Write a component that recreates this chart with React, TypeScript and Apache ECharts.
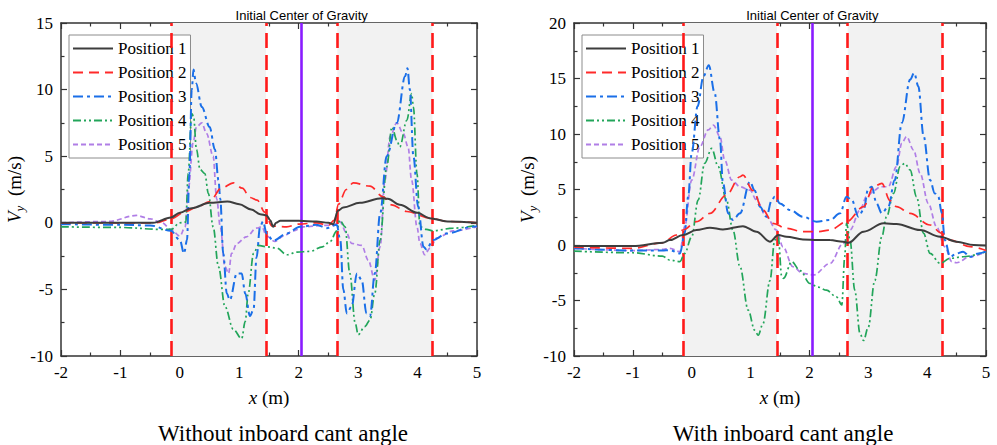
import React, { useEffect, useRef } from "react";
import * as echarts from "echarts";

type Pt = [number, number];

const seriesNames = ["Position 1", "Position 2", "Position 3", "Position 4", "Position 5"];
const seriesColors = ["#3d3d3d", "#ff2a2a", "#1a6fe8", "#22a55a", "#b07ee6"];
const seriesDash: any[] = ["solid", [10, 6], [10, 4, 3, 4], [8, 3, 2, 3, 2, 3], [5, 3]];
const seriesWidth = [2, 1.7, 2, 1.7, 1.7];

const zoneBounds: Pt[] = [[-0.15, 1.45], [2.65, 4.25]];
const zoneLines = [-0.15, 1.45, 2.65, 4.25];
const cgX = 2.05;
const cgTitle = "Initial Center of Gravity";
const captions = ["Without inboard cant angle", "With inboard cant angle"];
const xRange = [-2, 5, 1];
const yRangeLeft = [-10, 15, 5];
const yRangeRight = [-10, 20, 5];

// ---- Without inboard cant angle ----
const leftP1: Pt[] = [[-2,0],[-1,0],[-0.45,0],[-0.15,0.4],[0,0.75],[0.2,1.1],[0.5,1.5],[0.8,1.6],[1.0,1.4],[1.2,1.0],[1.35,0.65],[1.46,0.55],[1.52,0.2],[1.57,-0.3],[1.62,0],[1.69,0.15],[2.0,0.15],[2.3,0.1],[2.5,0],[2.58,-0.1],[2.66,0.9],[2.75,1.15],[3.03,1.5],[3.4,1.85],[3.5,1.8],[3.7,1.35],[4.0,0.75],[4.2,0.35],[4.5,0.1],[5,0]];
const leftP2: Pt[] = [[-2,0],[-1,0],[-0.4,0],[-0.15,0.3],[0.1,0.85],[0.3,1.2],[0.5,1.6],[0.7,2.6],[0.9,3.0],[1.05,2.6],[1.18,1.9],[1.3,1.7],[1.43,0.8],[1.55,-0.25],[1.8,-0.3],[2.0,-0.1],[2.3,0],[2.5,-0.2],[2.6,0.2],[2.67,1.4],[2.8,2.5],[2.92,3.0],[3.2,2.75],[3.42,1.95],[3.56,1.35],[3.82,0.85],[4.21,0.35],[4.5,0.1],[5,0]];
const leftP3: Pt[] = [[-2,-0.1],[-1,-0.15],[-0.5,-0.2],[-0.15,-0.6],[0,-1.3],[0.07,-2.3],[0.12,-1.3],[0.16,3.7],[0.2,10],[0.23,11.5],[0.27,10.5],[0.37,8.7],[0.5,7.2],[0.59,5.5],[0.65,3.2],[0.68,1.8],[0.73,-2.3],[0.79,-5.3],[0.84,-5.8],[0.96,-3.8],[1.04,-3.8],[1.1,-5.3],[1.18,-7.0],[1.24,-6.5],[1.29,-2.6],[1.35,-0.3],[1.4,0.1],[1.46,-0.8],[1.57,-1.35],[1.8,-0.8],[2.02,-0.3],[2.3,-0.15],[2.47,-0.4],[2.64,-0.15],[2.7,-1.3],[2.75,-5.0],[2.81,-6.8],[2.89,-6.3],[2.98,-3.8],[3.06,-4.3],[3.14,-6.8],[3.2,-7.0],[3.28,-3.8],[3.37,0.7],[3.48,5.0],[3.65,7.5],[3.79,11.0],[3.83,11.6],[3.87,10],[3.93,5.0],[4.01,1.2],[4.1,-1.8],[4.15,-2.0],[4.26,-1.3],[4.49,-0.8],[4.93,-0.3],[5,-0.25]];
const leftP4: Pt[] = [[-2,-0.3],[-1,-0.35],[-0.3,-0.5],[-0.15,-0.5],[0,0],[0.1,0.05],[0.14,3.7],[0.2,8.2],[0.23,8.0],[0.28,5.5],[0.34,4.0],[0.42,3.7],[0.48,2.2],[0.56,-0.3],[0.65,-3.3],[0.76,-6.3],[0.9,-8.0],[1.04,-8.7],[1.1,-7.4],[1.15,-5.3],[1.24,-2.3],[1.32,-1.7],[1.46,-1.8],[1.63,-1.9],[1.8,-2.4],[1.97,-2.2],[2.19,-2.15],[2.4,-1.8],[2.53,-1.4],[2.64,-0.6],[2.69,0.2],[2.78,-0.3],[2.86,-3.8],[2.95,-7.5],[3.0,-8.4],[3.11,-7.8],[3.2,-7.3],[3.28,-5.3],[3.37,-1.3],[3.48,4.2],[3.57,7.2],[3.65,6.2],[3.7,5.7],[3.82,7.7],[3.9,9.7],[3.93,8.7],[3.99,3.7],[4.04,-0.3],[4.15,-0.5],[4.26,-0.6],[4.6,-0.4],[5,-0.2]];
const leftP5: Pt[] = [[-2,0],[-1.2,0.1],[-0.73,0.55],[-0.5,0.3],[-0.3,0],[-0.15,-0.5],[0,-1.0],[0.09,-0.3],[0.14,2.5],[0.23,6.2],[0.28,7.2],[0.37,7.5],[0.45,6.7],[0.56,5.0],[0.62,1.8],[0.68,-0.3],[0.76,-3.3],[0.82,-3.8],[0.87,-2.3],[0.96,-1.55],[1.12,-1.05],[1.29,-0.4],[1.38,-0.3],[1.46,-1.0],[1.6,-1.4],[1.74,-1.0],[1.91,-0.6],[2.08,-0.3],[2.4,-0.2],[2.58,-0.2],[2.69,0.1],[2.81,-0.8],[2.89,-1.55],[3.06,-1.7],[3.17,-2.8],[3.28,-4.3],[3.37,-1.8],[3.45,3.2],[3.54,6.5],[3.65,7.5],[3.76,6.7],[3.84,5.7],[3.9,3.2],[3.99,-0.3],[4.04,-1.55],[4.12,-2.4],[4.21,-1.9],[4.32,-1.15],[4.6,-0.6],[5,-0.3]];

// ---- With inboard cant angle ----
const rightP1: Pt[] = [[-2,-0.1],[-1,-0.1],[-0.49,0.2],[-0.37,0.44],[-0.15,0.9],[0.08,1.35],[0.31,1.56],[0.53,1.4],[0.87,1.7],[1.1,1.2],[1.33,0.3],[1.47,0.9],[1.61,0.75],[1.89,0.5],[2.14,0.45],[2.35,0.44],[2.575,0.3],[2.66,0.2],[2.92,1.2],[3.26,1.95],[3.48,1.9],[3.88,1.35],[4.22,0.75],[4.5,0.3],[4.79,0],[5,-0.05]];
const rightP2: Pt[] = [[-2,-0.2],[-1,-0.3],[-0.5,0.2],[-0.26,0.9],[-0.15,1.35],[0.08,2.1],[0.31,2.85],[0.59,4.5],[0.82,6.15],[0.87,6.3],[1.04,4.9],[1.21,3.15],[1.38,1.95],[1.61,1.5],[1.89,1.2],[2.14,1.2],[2.35,1.35],[2.63,2.1],[2.92,3.45],[3.09,5.25],[3.23,5.56],[3.37,4.0],[3.48,3.45],[3.71,2.85],[4.05,1.8],[4.25,1.05],[4.39,0.44],[4.73,-0.15],[5,-0.5]];
const rightP3: Pt[] = [[-2,-0.3],[-1,-0.5],[-0.5,-0.5],[-0.37,-0.46],[-0.2,-0.76],[-0.12,1.05],[-0.06,4.35],[0,8.3],[0.1,12.5],[0.2,15.2],[0.29,16.2],[0.39,13.7],[0.48,9.5],[0.53,5.6],[0.62,2.85],[0.7,2.25],[0.82,2.85],[0.99,5.7],[1.07,4.9],[1.16,3.45],[1.27,2.55],[1.36,4.05],[1.41,4.35],[1.5,3.75],[1.67,3.15],[1.89,2.55],[2.12,2.1],[2.35,2.25],[2.52,2.85],[2.63,4.35],[2.72,4.05],[2.83,2.55],[2.92,3.15],[3.0,5.1],[3.06,5.25],[3.14,3.75],[3.23,2.85],[3.34,3.45],[3.45,5.85],[3.57,11.0],[3.71,14.9],[3.78,15.5],[3.85,14.3],[3.94,9.8],[4.05,5.85],[4.13,4.65],[4.19,4.35],[4.25,2.85],[4.3,0.44],[4.39,-1.06],[4.5,-0.76],[4.61,-0.6],[4.73,-1.06],[4.87,-0.76],[5,-0.6]];
const rightP4: Pt[] = [[-2,-0.55],[-1,-0.7],[-0.5,-1.0],[-0.37,-1.36],[-0.2,-1.5],[-0.12,-0.76],[0,0.74],[0.11,4.05],[0.22,7.36],[0.34,8.7],[0.45,7.06],[0.59,4.05],[0.7,1.35],[0.82,-1.96],[0.96,-5.87],[1.07,-7.68],[1.13,-8.13],[1.21,-7.1],[1.33,-3.2],[1.41,0.44],[1.47,0.74],[1.53,-2.87],[1.56,-3.0],[1.7,-1.5],[1.84,-2.3],[2.01,-3.47],[2.15,-3.8],[2.29,-4.07],[2.46,-4.68],[2.55,-5.4],[2.6,-1.06],[2.63,1.95],[2.69,0.44],[2.77,-4.07],[2.86,-8.0],[2.92,-8.6],[3.0,-7.4],[3.11,-3.2],[3.23,0.74],[3.31,2.55],[3.43,4.65],[3.54,7.06],[3.62,7.36],[3.71,6.76],[3.82,4.35],[3.94,1.05],[4.05,-0.76],[4.22,-1.66],[4.39,-1.2],[4.61,-1.06],[5,-0.6]];
const rightP5: Pt[] = [[-2,-0.3],[-1,-0.5],[-0.5,-0.4],[-0.37,-0.3],[-0.2,-0.6],[-0.12,1.65],[0,5.85],[0.14,8.86],[0.28,10.37],[0.37,10.8],[0.48,9.77],[0.56,7.66],[0.68,5.85],[0.82,5.25],[0.99,4.95],[1.1,4.05],[1.27,2.55],[1.44,1.35],[1.55,-0.16],[1.72,-1.96],[1.89,-2.56],[2.07,-2.7],[2.35,-1.66],[2.575,0.14],[2.69,1.35],[2.86,3.15],[2.97,4.35],[3.11,4.95],[3.2,5.25],[3.34,5.25],[3.48,7.06],[3.57,9.17],[3.65,9.77],[3.77,8.56],[3.88,6.46],[4.02,3.75],[4.16,1.65],[4.3,-0.16],[4.42,-1.5],[4.5,-1.6],[4.73,-1.06],[5,-0.6]];

const panels = [
  { data: [leftP1, leftP2, leftP3, leftP4, leftP5], yRange: yRangeLeft },
  { data: [rightP1, rightP2, rightP3, rightP4, rightP5], yRange: yRangeRight },
];

const SERIF = "Liberation Serif";
const SANS = "Liberation Sans";
const AX = "#333";

const grids = [
  { left: 61, top: 23, width: 416, height: 333 },
  { left: 574, top: 23, width: 412, height: 333 },
];

function buildOption() {
  const xAxes: any[] = [];
  const yAxes: any[] = [];
  const series: any[] = [];
  const legends: any[] = [];
  const graphics: any[] = [];

  const labelStyle = { fontFamily: SERIF, fontSize: 17, color: "#000", margin: 8 };

  panels.forEach((p, g) => {
    const lineCommon = { show: true, onZero: false, lineStyle: { color: AX, width: 1.5 } };
    const tick = { show: true, inside: true, length: 6, lineStyle: { color: AX, width: 1.2 } };
    const minor = { show: true, splitNumber: 2, length: 3.5, lineStyle: { color: AX, width: 1.2 } };
    xAxes.push({
      type: "value", gridIndex: g, min: xRange[0], max: xRange[1], interval: xRange[2], position: "bottom",
      axisLine: lineCommon, axisTick: tick, minorTick: minor, splitLine: { show: false },
      axisLabel: labelStyle,
      name: "{i|x} {t|(m)}", nameLocation: "middle", nameGap: 32,
      nameTextStyle: {
        color: "#000", fontFamily: SERIF, fontSize: 19,
        rich: {
          i: { fontStyle: "italic", fontFamily: SERIF, fontSize: 19, color: "#000" },
          t: { fontFamily: SERIF, fontSize: 19, color: "#000" },
        },
      },
    });
    xAxes.push({
      type: "value", gridIndex: g, min: xRange[0], max: xRange[1], interval: xRange[2], position: "top",
      axisLine: lineCommon, axisTick: tick, minorTick: minor, splitLine: { show: false },
      axisLabel: { show: false },
    });
    yAxes.push({
      type: "value", gridIndex: g, min: p.yRange[0], max: p.yRange[1], interval: p.yRange[2], position: "left",
      axisLine: lineCommon, axisTick: tick, minorTick: minor, splitLine: { show: false },
      axisLabel: labelStyle,
      name: "{v|V}{s|y}{t|  (m/s)}", nameLocation: "middle", nameGap: 20, nameRotate: 90,
      nameTextStyle: {
        color: "#000", fontFamily: SERIF, fontSize: 19,
        rich: {
          v: { fontStyle: "italic", fontFamily: SERIF, fontSize: 19, color: "#000" },
          s: { fontStyle: "italic", fontFamily: SERIF, fontSize: 13, color: "#000", padding: [10, 0, 0, 0] },
          t: { fontFamily: SERIF, fontSize: 19, color: "#000" },
        },
      },
    });
    yAxes.push({
      type: "value", gridIndex: g, min: p.yRange[0], max: p.yRange[1], interval: p.yRange[2], position: "right",
      axisLine: lineCommon, axisTick: tick, minorTick: minor, splitLine: { show: false },
      axisLabel: { show: false },
    });

    const xi = g * 2;
    const yi = g * 2;
    series.push({
      type: "line", xAxisIndex: xi, yAxisIndex: yi, data: [], z: 1, silent: true,
      markArea: {
        silent: true,
        itemStyle: { color: "#f2f2f2" },
        data: zoneBounds.map((b) => [{ xAxis: b[0] }, { xAxis: b[1] }]),
      },
    });
    p.data.forEach((d, k) => {
      series.push({
        name: seriesNames[k], type: "line", xAxisIndex: xi, yAxisIndex: yi,
        data: d, symbol: "none", smooth: 0.35, smoothMonotone: "x", z: 3 + (5 - k),
        lineStyle: { color: seriesColors[k], width: seriesWidth[k], type: seriesDash[k] },
        itemStyle: { color: seriesColors[k] },
      });
    });
    series.push({
      type: "line", xAxisIndex: xi, yAxisIndex: yi, data: [], z: 10, silent: true,
      markLine: {
        silent: true, symbol: ["none", "none"], label: { show: false },
        data: [
          ...zoneLines.map((v) => ({ xAxis: v, lineStyle: { color: "#ff1a1a", width: 2.6, type: [15, 7] } })),
          { xAxis: cgX, lineStyle: { color: "#8a1cff", width: 2.6, type: "solid" } },
        ],
      },
    });

    legends.push({
      data: seriesNames,
      orient: "vertical", left: grids[g].left + 8, top: 35,
      itemWidth: 40, itemHeight: 14, itemGap: 7, padding: [5, 4, 5, 3],
      borderColor: "#8c8c8c", borderWidth: 1, backgroundColor: "#fff",
      itemStyle: { opacity: 0 },
      textStyle: { fontFamily: SERIF, fontSize: 17, color: "#000" },
      selectedMode: false,
    });

    const xPix = grids[g].left + ((cgX - xRange[0]) / (xRange[1] - xRange[0])) * grids[g].width;
    graphics.push({
      type: "text", x: xPix, y: 15,
      style: { text: cgTitle, fill: "#000", fontFamily: SANS, fontSize: 13, align: "center", verticalAlign: "middle" },
    });
    graphics.push({
      type: "text", x: g === 0 ? 283 : 783, y: 433,
      style: { text: captions[g], fill: "#000", fontFamily: SERIF, fontSize: 23, align: "center", verticalAlign: "middle" },
    });
  });

  return {
    animation: false,
    backgroundColor: "#fff",
    textStyle: { fontFamily: SERIF },
    grid: grids,
    xAxis: xAxes,
    yAxis: yAxes,
    legend: legends,
    series,
    graphic: graphics,
  };
}

export default function App() {
  const ref = useRef<HTMLDivElement>(null);
  useEffect(() => {
    if (!ref.current) return;
    const chart = echarts.init(ref.current, null, { renderer: "svg" });
    chart.setOption(buildOption());
    let alive = true;
    const redraw = () => {
      if (!alive || chart.isDisposed()) return;
      chart.setOption(buildOption(), true);
    };
    const fonts: any = (document as any).fonts;
    if (fonts && fonts.ready) fonts.ready.then(() => requestAnimationFrame(redraw));
    return () => {
      alive = false;
      chart.dispose();
    };
  }, []);
  return <div ref={ref} style={{ position: "absolute", left: 0, top: 0, width: 997, height: 445 }} />;
}
